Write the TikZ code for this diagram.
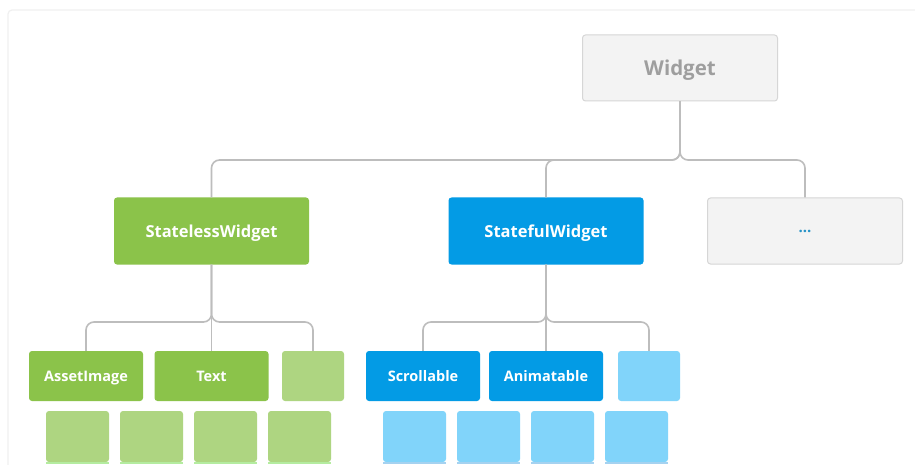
\documentclass[tikz,border=0pt]{standalone}
\usepackage{fontspec}
\setmainfont{Open Sans}
\definecolor{gfill}{HTML}{F3F3F3}
\definecolor{gline}{HTML}{D6D6D6}
\definecolor{conncol}{HTML}{BDBDBD}
\definecolor{dgreen}{HTML}{8BC34A}
\definecolor{lgreen}{HTML}{AED581}
\definecolor{dblue}{HTML}{039BE5}
\definecolor{lblue}{HTML}{81D4FA}
\definecolor{txtgray}{HTML}{9E9E9E}
\tikzset{
  box/.style={rectangle, rounded corners=3pt, inner sep=0pt, font=\bfseries, text depth=0pt},
  graybox/.style={box, fill=gfill, draw=gline, line width=1pt, minimum width=195pt, minimum height=66pt},
  bigbox/.style={box, minimum width=195pt, minimum height=67pt, text=white, font=\bfseries\fontsize{16.5}{20}\selectfont},
  smallbox/.style={box, minimum width=114pt, minimum height=50pt, text=white, font=\bfseries\fontsize{14.5}{17}\selectfont},
  tinybox/.style={box, minimum width=62pt, minimum height=50pt},
  leafbox/.style={box, minimum width=63pt, minimum height=51pt},
  conn/.style={draw=conncol, line width=1.6pt, rounded corners=8pt},
}
\begin{document}
\begin{tikzpicture}[x=1pt,y=-1pt]
\useasboundingbox (0,0) rectangle (915,465);
\fill[white] (0,0) rectangle (915,465);
\draw[draw=black!6, line width=1.2pt, rounded corners=4pt] (8,10) rectangle (930,480);

% top
\node[graybox, text=txtgray, font=\bfseries\fontsize{20.5}{24}\selectfont] (w) at (680,68) {Widget};

% second row
\node[bigbox, fill=dgreen] (sl) at (211.5,231) {StatelessWidget};
\node[bigbox, fill=dblue] (sf) at (546,231) {StatefulWidget};
\node[graybox, text=dblue!70!gray, font=\bfseries\fontsize{15}{17}\selectfont] (dots) at (805,231) {...};

\coordinate (j1) at (680,160);
\draw[conn] (w.south) -- (j1) -| (sl.north);
\draw[conn] (w.south) -- (j1) -| (sf.north);
\draw[conn] (w.south) -- (j1) -| (dots.north);

% third row
\node[smallbox, fill=dgreen] (ai) at (86,376) {AssetImage};
\node[smallbox, fill=dgreen] (tx) at (211.5,376) {Text};
\node[tinybox, fill=lgreen] (g3) at (313,376) {};
\node[smallbox, fill=dblue] (sc) at (423,376) {Scrollable};
\node[smallbox, fill=dblue] (an) at (546,376) {Animatable};
\node[tinybox, fill=lblue] (b3) at (649,376) {};

\coordinate (j2) at (211.5,322);
\draw[conn] (sl.south) -- (j2) -| (ai.north);
\draw[conn] (sl.south) -- (tx.north);
\draw[conn] (sl.south) -- (j2) -| (g3.north);
\coordinate (j3) at (546,322);
\draw[conn] (sf.south) -- (j3) -| (sc.north);
\draw[conn] (sf.south) -- (an.north);
\draw[conn] (sf.south) -- (j3) -| (b3.north);

% bottom row
\foreach \n/\x in {l1/77.5,l2/151.5,l3/225.5,l4/299.5}{
  \node[leafbox, fill=lgreen] (\n) at (\x,436.5) {};
  \fill[green!25!lgreen!60!white] ([yshift=-1.5pt]\n.south west) rectangle (\n.south east);
}
\foreach \n/\x in {r1/414.5,r2/488.5,r3/562.5,r4/636.5}{
  \node[leafbox, fill=lblue] (\n) at (\x,436.5) {};
  \fill[cyan!20!lblue!60!white] ([yshift=-1.5pt]\n.south west) rectangle (\n.south east);
}
\end{tikzpicture}
\end{document}
